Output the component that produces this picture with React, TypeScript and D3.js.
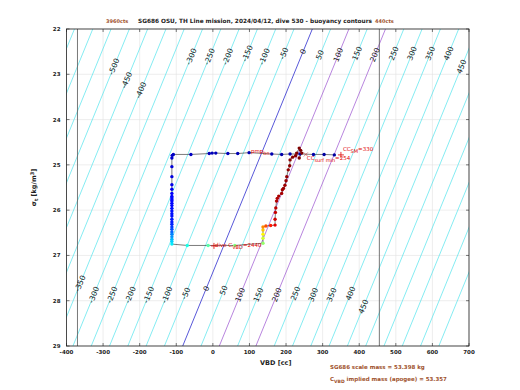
import React from 'react';
import * as d3 from 'd3';

const xTicks = [-400, -300, -200, -100, 0, 100, 200, 300, 400, 500, 600, 700];
const yTicks = [22, 23, 24, 25, 26, 27, 28, 29];

// buoyancy contour levels (cc)
const contourLevels = [-900, -850, -800, -750, -700, -650, -600, -550, -500, -450, -400, -350, -300, -250, -200, -150, -100, -50, 0, 50, 100, 150, 200, 250, 300, 350, 400, 450, 500, 550, 600, 650, 700];
const topLabelLevels = [-500, -450, -400, -300, -250, -200, -150, -100, -50, 0, 50, 100, 150, 200, 250, 300, 350, 400, 450];
const topLabelSigma = [22.83, 23.13, 23.35, 22.61, 22.61, 22.61, 22.54, 22.61, 22.54, 22.5, 22.57, 22.57, 22.54, 22.57, 22.54, 22.54, 22.54, 22.54, 22.83];
const bottomLabelLevels = [-350, -300, -250, -200, -150, -100, -50, 0, 50, 100, 150, 200, 250, 300, 350, 400, 450];
const bottomLabelSigma = [27.62, 27.87, 27.87, 27.87, 27.87, 27.87, 27.84, 27.73, 27.77, 27.87, 27.87, 27.87, 27.84, 27.87, 27.87, 27.84, 28.13];
const highlightLevels = [100, 200];
const neutralLevel = 0;

// dive path: VBD (cc), sigma_t, colour parameter (time fraction)
const pathVbd = [332, 304, 275, 238, 211, 188, 161, 99, 68, 41, 8, -2, -10, -60, -108, -111,
  -112, -112, -112, -112, -112, -112, -112, -112, -112, -112, -112, -112, -112, -112, -112, -112, -112, -112, -112, -112, -112, -112, -112, -112, -112, -112, -112,
  -70, -13, 60, 137, 137, 137, 137, 137,
  145, 158, 170, 170, 171, 172, 174, 176, 180, 188, 190, 193, 197, 200, 202, 206, 210, 211, 218, 226, 229, 236, 240, 243, 236];
const pathSigma = [24.78, 24.77, 24.77, 24.76, 24.76, 24.77, 24.76, 24.73, 24.75, 24.75, 24.74, 24.74, 24.75, 24.77, 24.77, 24.79,
  24.85, 25.04, 25.26, 25.44, 25.54, 25.63, 25.7, 25.73, 25.77, 25.8, 25.85, 25.9, 25.96, 26.02, 26.08, 26.13, 26.2, 26.26, 26.31, 26.37, 26.42, 26.48, 26.53, 26.59, 26.64, 26.69, 26.75,
  26.78, 26.78, 26.78, 26.73, 26.62, 26.53, 26.44, 26.37,
  26.35, 26.34, 26.33, 26.2, 26.05, 25.95, 25.8, 25.74, 25.69, 25.63, 25.55, 25.52, 25.45, 25.35, 25.26, 25.11, 25.02, 24.89, 24.83, 24.8, 24.74, 24.63, 24.68, 24.74, 24.85];
const pathT = [0.02, 0.02, 0.03, 0.03, 0.03, 0.03, 0.04, 0.04, 0.04, 0.05, 0.05, 0.05, 0.05, 0.06, 0.06, 0.06,
  0.07, 0.08, 0.09, 0.1, 0.11, 0.12, 0.12, 0.13, 0.13, 0.13, 0.13, 0.13, 0.14, 0.14, 0.14, 0.14, 0.15, 0.15, 0.16, 0.18, 0.2, 0.22, 0.25, 0.27, 0.3, 0.33, 0.36,
  0.4, 0.46, 0.5, 0.52, 0.58, 0.63, 0.68, 0.74,
  0.8, 0.85, 0.9, 0.92, 0.93, 0.94, 0.95, 0.95, 0.96, 0.96, 0.965, 0.97, 0.97, 0.975, 0.98, 0.98, 0.985, 0.99, 0.99, 0.99, 0.995, 1, 1, 1, 1];

const vbdLimits = [-370, 455];
const ccSM = { vbd: 350, sigma: 24.78 };
const ccSurfMin = { vbd: 254, sigma: 24.77 };
const diveMark = { vbd: 3, sigma: 26.79 };

const W = 520, H = 390;
const M = { left: 66.5, right: 469, top: 29, bottom: 346 };

const x = d3.scaleLinear().domain([-400, 700]).range([M.left, M.right]);
const y = d3.scaleLinear().domain([22, 29]).range([M.top, M.bottom]);

const SLOPE = 50.6; // cc per kg/m^3
const OFFSET = 271.8; // VBD of level 0 at sigma 22
const lineVbd = (c: number, s: number) => c + OFFSET - SLOPE * (s - 22);

const jet = d3.scaleLinear<string>()
  .domain([0, 0.125, 0.375, 0.625, 0.875, 1])
  .range(['#00008f', '#0000ff', '#00ffff', '#ffff00', '#ff0000', '#800000'])
  .interpolate(d3.interpolateRgb);

const angle = -Math.atan2(y(23) - y(22), x(SLOPE) - x(0)) * 180 / Math.PI;

const font = 'DejaVu Sans, sans-serif';

export default function App() {
  const clipId = 'plotclip';
  const pts = pathVbd.map((v, i) => [x(v), y(pathSigma[i])] as [number, number]);
  const line = d3.line();
  const labelText = (c: number, s: number, key: string) => {
    const px = x(lineVbd(c, s));
    const py = y(s);
    return (
      <text key={key} x={px} y={py} transform={`rotate(${angle} ${px} ${py})`} textAnchor="middle" dominantBaseline="central"
        fontSize={7.5} fontFamily={font} fill="#222">{c}</text>
    );
  };
  const plus = (v: number, s: number, key: string) => (
    <g key={key}>
      <line x1={x(v) - 3} x2={x(v) + 3} y1={y(s)} y2={y(s)} />
      <line x1={x(v)} x2={x(v)} y1={y(s) - 3} y2={y(s) + 3} />
    </g>
  );
  return (
    <svg width={W} height={H} style={{ position: 'absolute', left: 0, top: 0, background: '#fff' }}>
      <defs>
        <clipPath id={clipId}><rect x={M.left} y={M.top} width={M.right - M.left} height={M.bottom - M.top} /></clipPath>
      </defs>
      {/* grid */}
      {xTicks.map(t => <line key={'gx' + t} x1={x(t)} x2={x(t)} y1={M.top} y2={M.bottom} stroke="#e3e3e3" strokeWidth={0.6} />)}
      {yTicks.map(t => <line key={'gy' + t} x1={M.left} x2={M.right} y1={y(t)} y2={y(t)} stroke="#e3e3e3" strokeWidth={0.6} />)}
      <g clipPath={`url(#${clipId})`}>
        {contourLevels.map(c => {
          const col = c === neutralLevel ? '#1010c8' : highlightLevels.includes(c) ? '#9a50d0' : '#50e4ec';
          return <line key={'c' + c} x1={x(lineVbd(c, 22))} y1={y(22)} x2={x(lineVbd(c, 29))} y2={y(29)} stroke={col} strokeWidth={0.7} />;
        })}
        {vbdLimits.map(v => <line key={'l' + v} x1={x(v)} x2={x(v)} y1={M.top} y2={M.bottom} stroke="#555" strokeWidth={0.8} />)}
        <path d={line(pts) || ''} fill="none" stroke="#444" strokeWidth={0.7} />
        {pts.map((p, i) => <circle key={'p' + i} cx={p[0]} cy={p[1]} r={1.7} fill={jet(pathT[i])} />)}
      </g>
      {topLabelLevels.map((c, i) => labelText(c, topLabelSigma[i], 'tl' + c))}
      {bottomLabelLevels.map((c, i) => labelText(c, bottomLabelSigma[i], 'bl' + c))}
      {/* markers */}
      <g stroke="#e00000" strokeWidth={0.8}>
        {plus(ccSM.vbd, ccSM.sigma, 'm1')}
        {plus(diveMark.vbd, diveMark.sigma, 'm2')}
      </g>
      <g stroke="#c03030" strokeWidth={0.6}>
        <line x1={x(ccSurfMin.vbd) - 2} x2={x(ccSurfMin.vbd) + 2} y1={y(ccSurfMin.sigma) - 2} y2={y(ccSurfMin.sigma) + 2} />
        <line x1={x(ccSurfMin.vbd) - 2} x2={x(ccSurfMin.vbd) + 2} y1={y(ccSurfMin.sigma) + 2} y2={y(ccSurfMin.sigma) - 2} />
      </g>
      <g fontFamily={font} fontSize={5.5} fill="#e00000">
        <text x={x(ccSM.vbd) + 2} y={y(ccSM.sigma) - 4}>CC<tspan dy={2} fontSize={5}>SM</tspan><tspan dy={-2}>=330</tspan></text>
        <text x={x(ccSurfMin.vbd) + 1} y={y(ccSurfMin.sigma) + 6}>CC<tspan dy={2} fontSize={5}>surf min</tspan><tspan dy={-2}>=254</tspan></text>
        <text x={x(diveMark.vbd) + 1} y={y(diveMark.sigma) + 1}>dive C<tspan dy={2} fontSize={5}>VBD</tspan><tspan dy={-2}>=2440</tspan></text>
        <text x={251} y={153}>pmp<tspan dy={2} fontSize={5}>bn</tspan></text>
      </g>
      {/* axes box */}
      <rect x={M.left} y={M.top} width={M.right - M.left} height={M.bottom - M.top} fill="none" stroke="#222" strokeWidth={0.8} />
      {xTicks.map(t => (
        <g key={'tx' + t}>
          <line x1={x(t)} x2={x(t)} y1={M.bottom} y2={M.bottom - 3} stroke="#222" strokeWidth={0.6} />
          <line x1={x(t)} x2={x(t)} y1={M.top} y2={M.top + 3} stroke="#222" strokeWidth={0.6} />
          <text x={x(t)} y={M.bottom + 8} textAnchor="middle" fontSize={5.5} fontWeight="bold" fontFamily={font} fill="#222">{t}</text>
        </g>
      ))}
      {yTicks.map(t => (
        <g key={'ty' + t}>
          <line x1={M.left} x2={M.left + 3} y1={y(t)} y2={y(t)} stroke="#222" strokeWidth={0.6} />
          <line x1={M.right} x2={M.right - 3} y1={y(t)} y2={y(t)} stroke="#222" strokeWidth={0.6} />
          <text x={M.left - 6} y={y(t)} textAnchor="end" dominantBaseline="central" fontSize={5.5} fontWeight="bold" fontFamily={font} fill="#222">{t}</text>
        </g>
      ))}
      <text x={(M.left + M.right) / 2 + 8} y={M.bottom + 19} textAnchor="middle" fontSize={6.5} fontWeight="bold" fontFamily={font} fill="#222">VBD [cc]</text>
      <text transform={`translate(36 ${(M.top + M.bottom) / 2}) rotate(-90)`} textAnchor="middle" fontSize={6.5} fontWeight="bold" fontFamily={font} fill="#222">
        σ<tspan dy={1.5} fontSize={5}>t</tspan><tspan dy={-1.5}> [kg/m</tspan><tspan dy={-2.5} fontSize={5}>3</tspan><tspan dy={2.5}>]</tspan>
      </text>
      <text x={255} y={23} textAnchor="middle" fontSize={5.8} fontWeight="bold" fontFamily={font} fill="#222">SG686 OSU, TH Line mission, 2024/04/12, dive 530 - buoyancy contours</text>
      <text x={106} y={23} fontSize={5} fontWeight="bold" fontFamily={font} fill="#a0522d">3960cts</text>
      <text x={375} y={23} fontSize={5} fontWeight="bold" fontFamily={font} fill="#a0522d">440cts</text>
      <g fontFamily={font} fontSize={5.5} fontWeight="bold" fill="#a0522d">
        <text x={330} y={369}>SG686 scale mass = 53.398 kg</text>
        <text x={330} y={381}>C<tspan dy={2} fontSize={4.5}>VBD</tspan><tspan dy={-2}> implied mass (apogee) = 53.357</tspan></text>
      </g>
    </svg>
  );
}
